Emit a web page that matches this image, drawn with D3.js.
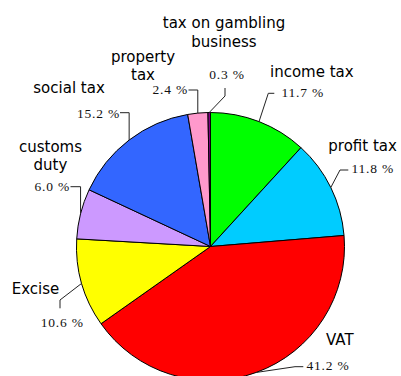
<!DOCTYPE html>
<html>
<head>
<meta charset="utf-8">
<script src="https://cdn.jsdelivr.net/npm/d3@7/dist/d3.min.js"></script>
<style>
  html, body { margin: 0; padding: 0; background: #fff; }
  svg { display: block; }
  .name { font-family: "DejaVu Sans", Verdana, sans-serif; font-size: 15px; fill: #000; }
  .pct { font-family: "Liberation Serif", "Times New Roman", serif; font-size: 13.5px; letter-spacing: 0.8px; fill: #111; }
</style>
</head>
<body>
<svg id="chart" width="401" height="376"></svg>
<script>
// Tax revenue structure, share of total (%)
const categories = ["income tax", "profit tax", "VAT", "Excise", "customs duty",
                    "social tax", "property tax", "tax on gambling business"];
const shares = [11.7, 11.8, 41.2, 10.6, 6.0, 15.2, 2.4, 0.3];
const colors = ["#00ff00", "#00ccff", "#ff0000", "#ffff00", "#cc99ff",
                "#3366ff", "#ff99cc", "#800080"];

// How each category name is broken over lines
const nameLines = [["income tax"], ["profit tax"], ["VAT"], ["Excise"], ["customs", "duty"],
                   ["social tax"], ["property", "tax"], ["tax on gambling", "business"]];

// Label placement: name position/anchor, percentage position/anchor, leader elbow and tick end
const labelLayout = [
  { nx: 270,   ny: 76.7,  na: "start",  px: 281.5, py: 96.7,  pa: "start",  ex: 268.3, ey: 93.3,  tx: 274.3, ty: 93.3 },
  { nx: 328.3, ny: 150.7, na: "start",  px: 351.5, py: 173.3, pa: "start",  ex: 340,   ey: 170,   tx: 348.3, ty: 170 },
  { nx: 326,   ny: 345,   na: "start",  px: 306.5, py: 370,   pa: "start",  ex: 295,   ey: 366.7, tx: 303.3, ty: 366.7 },
  { nx: 11.7,  ny: 294,   na: "start",  px: 40.7,  py: 326.7, pa: "start",  ex: 60,    ey: 300,   tx: 60,    ty: 308.3 },
  { nx: 50.5,  ny: 151.7, na: "middle", px: 70,    py: 191,   pa: "end",    ex: null,  ey: 186.7, tx: 70.5,  ty: 186.7 },
  { nx: 33.3,  ny: 93.3,  na: "start",  px: 120,   py: 118.3, pa: "end",    ex: null,  ey: 112.7, tx: 120,   ty: 112.7 },
  { nx: 143,   ny: 61.7,  na: "middle", px: 188,   py: 94.3,  pa: "end",    ex: null,  ey: 90,    tx: 188.5, ty: 90 },
  { nx: 224,   ny: 28,    na: "middle", px: 227,   py: 79,    pa: "middle", ex: 225,   ey: 96,    tx: 225,   ty: 88 }
];

const cx = 210.5, cy = 246.5, radius = 134;
const lineHeight = 18.5;

const svg = d3.select("#chart");
const g = svg.append("g").attr("transform", `translate(${cx},${cy})`);

const pie = d3.pie().sort(null).value(d => d)(shares);
const arc = d3.arc().innerRadius(0).outerRadius(radius);

g.selectAll("path.slice")
  .data(pie)
  .join("path")
  .attr("class", "slice")
  .attr("d", arc)
  .attr("fill", (d, i) => colors[i])
  .attr("stroke", "#000")
  .attr("stroke-width", 1)
  .attr("stroke-linejoin", "round");

const fmt = d3.format(".1f");

pie.forEach((d, i) => {
  const L = labelLayout[i];
  const mid = (d.startAngle + d.endAngle) / 2;
  const ax = cx + radius * Math.sin(mid);
  const ay = cy - radius * Math.cos(mid);
  const ex = L.ex === null ? ax : L.ex;

  svg.append("polyline")
    .attr("points", [[ax, ay], [ex, L.ey], [L.tx, L.ty]].map(p => p.join(",")).join(" "))
    .attr("fill", "none")
    .attr("stroke", "#222")
    .attr("stroke-width", 1);

  const name = svg.append("text")
    .attr("class", "name")
    .attr("text-anchor", L.na);
  nameLines[i].forEach((s, k) => {
    name.append("tspan").attr("x", L.nx).attr("y", L.ny + k * lineHeight).text(s);
  });

  svg.append("text")
    .attr("class", "pct")
    .attr("x", L.px)
    .attr("y", L.py)
    .attr("text-anchor", L.pa)
    .text(fmt(shares[i]) + " %");
});
</script>
</body>
</html>
